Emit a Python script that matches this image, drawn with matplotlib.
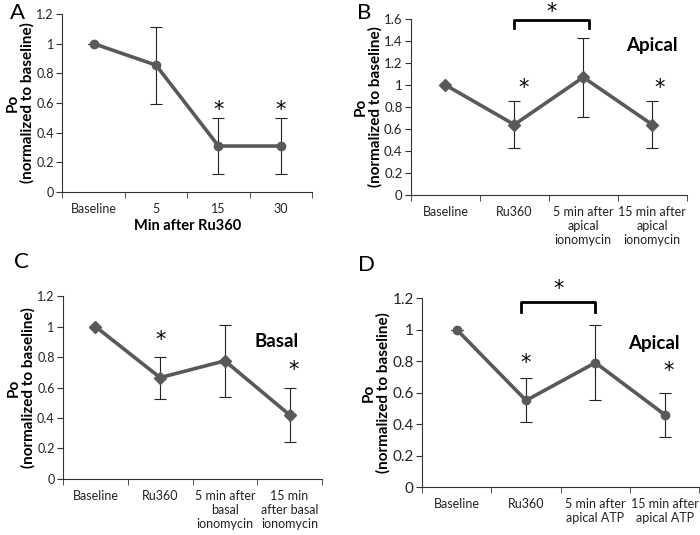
import matplotlib.pyplot as plt
import numpy as np

plt.rcParams['font.family'] = ['Lato', 'DejaVu Sans']

# panel A
a_labels = ['Baseline', '5', '15', '30']
a_po = [1.0, 0.855, 0.31, 0.31]
a_err = [0.0, 0.26, 0.19, 0.19]

# panel B
b_labels = ['Baseline', 'Ru360', '5 min after\napical\nionomycin', '15 min after\napical\nionomycin']
b_po = [1.0, 0.64, 1.07, 0.64]
b_err = [0.0, 0.215, 0.36, 0.215]

# panel C
c_labels = ['Baseline', 'Ru360', '5 min after\nbasal\nionomycin', '15 min\nafter basal\nionomycin']
c_po = [1.0, 0.665, 0.775, 0.42]
c_err = [0.0, 0.138, 0.238, 0.178]

# panel D
d_labels = ['Baseline', 'Ru360', '5 min after\napical ATP', '15 min after\napical ATP']
d_po = [1.0, 0.55, 0.79, 0.46]
d_err = [0.0, 0.14, 0.24, 0.14]

fig = plt.figure(figsize=(7.0, 5.35), dpi=100)

def panel(rect, labels, po, err, marker, ymax, ytick_fs):
    ax = fig.add_axes(rect)
    x = np.arange(len(po))
    ax.errorbar(x, po, yerr=err, fmt='none', ecolor='#222222', elinewidth=0.8,
                capsize=4, capthick=0.8, zorder=2)
    ax.plot(x, po, color='#595959', lw=2.6, marker=marker, ms=6, zorder=3)
    ax.set_xlim(-0.5, len(po) - 0.5)
    ax.set_ylim(0, ymax)
    yt = np.round(np.arange(0, ymax + 0.001, 0.2), 1)
    ax.set_yticks(yt)
    ax.set_yticklabels(['%g' % v for v in yt], fontsize=ytick_fs, color='#222222')
    ax.set_xticks(x)
    ax.set_xticklabels(labels, fontsize=9, color='#222222')
    ax.tick_params(axis='x', length=0, pad=8)
    ax.set_xticks(np.arange(-0.5, len(po)), minor=True)
    ax.tick_params(axis='x', which='minor', length=4, color='#333333')
    ax.tick_params(axis='y', length=4, color='#333333', pad=2)
    for s in ['top', 'right']:
        ax.spines[s].set_visible(False)
    for s in ['left', 'bottom']:
        ax.spines[s].set_color('#333333')
        ax.spines[s].set_linewidth(0.8)
    ax.set_ylabel('Po\n(normalized to baseline)', fontsize=11, fontweight='bold',
                  linespacing=1.05, labelpad=1)
    return ax

def star(ax, x, y):
    ax.text(x, y, '*', ha='center', va='center', fontsize=15,
            family='DejaVu Sans', clip_on=False)

axA = panel([0.089, 0.641, 0.357, 0.333], a_labels, a_po, a_err, 'o', 1.2, 9)
axA.set_xlabel('Min after Ru360', fontsize=10.5, fontweight='bold', labelpad=3)
star(axA, 2, 0.55)
star(axA, 3, 0.55)

axB = panel([0.587, 0.6355, 0.394, 0.329], b_labels, b_po, b_err, 'D', 1.6, 9.5)
star(axB, 1.13, 0.97)
star(axB, 3.1, 0.97)
axB.plot([1, 1, 2.08, 2.08], [1.52, 1.59, 1.59, 1.52], color='black', lw=2, clip_on=False)
star(axB, 1.54, 1.66)
axB.text(3.0, 1.36, 'Apical', ha='center', va='center', fontsize=13.5, fontweight='bold')

axC = panel([0.09, 0.1047, 0.37, 0.342], c_labels, c_po, c_err, 'D', 1.2, 9)
star(axC, 1.0, 0.91)
star(axC, 3.06, 0.715)
axC.text(2.8, 0.9, 'Basal', ha='center', va='center', fontsize=13.5, fontweight='bold')

axD = panel([0.603, 0.0897, 0.396, 0.353], d_labels, d_po, d_err, 'o', 1.2, 11)
star(axD, 1.0, 0.79)
star(axD, 3.06, 0.74)
axD.plot([0.93, 0.93, 2.0, 2.0], [1.11, 1.175, 1.175, 1.11], color='black', lw=2, clip_on=False)
star(axD, 1.47, 1.26)
axD.text(2.85, 0.91, 'Apical', ha='center', va='center', fontsize=13.5, fontweight='bold')

fig.text(0.025, 0.975, 'A', fontsize=16, va='center', ha='center')
fig.text(0.52, 0.975, 'B', fontsize=16, va='center', ha='center')
fig.text(0.03, 0.51, 'C', fontsize=16, va='center', ha='center')
fig.text(0.523, 0.505, 'D', fontsize=16, va='center', ha='center')

fig.savefig('out.png', dpi=100)
